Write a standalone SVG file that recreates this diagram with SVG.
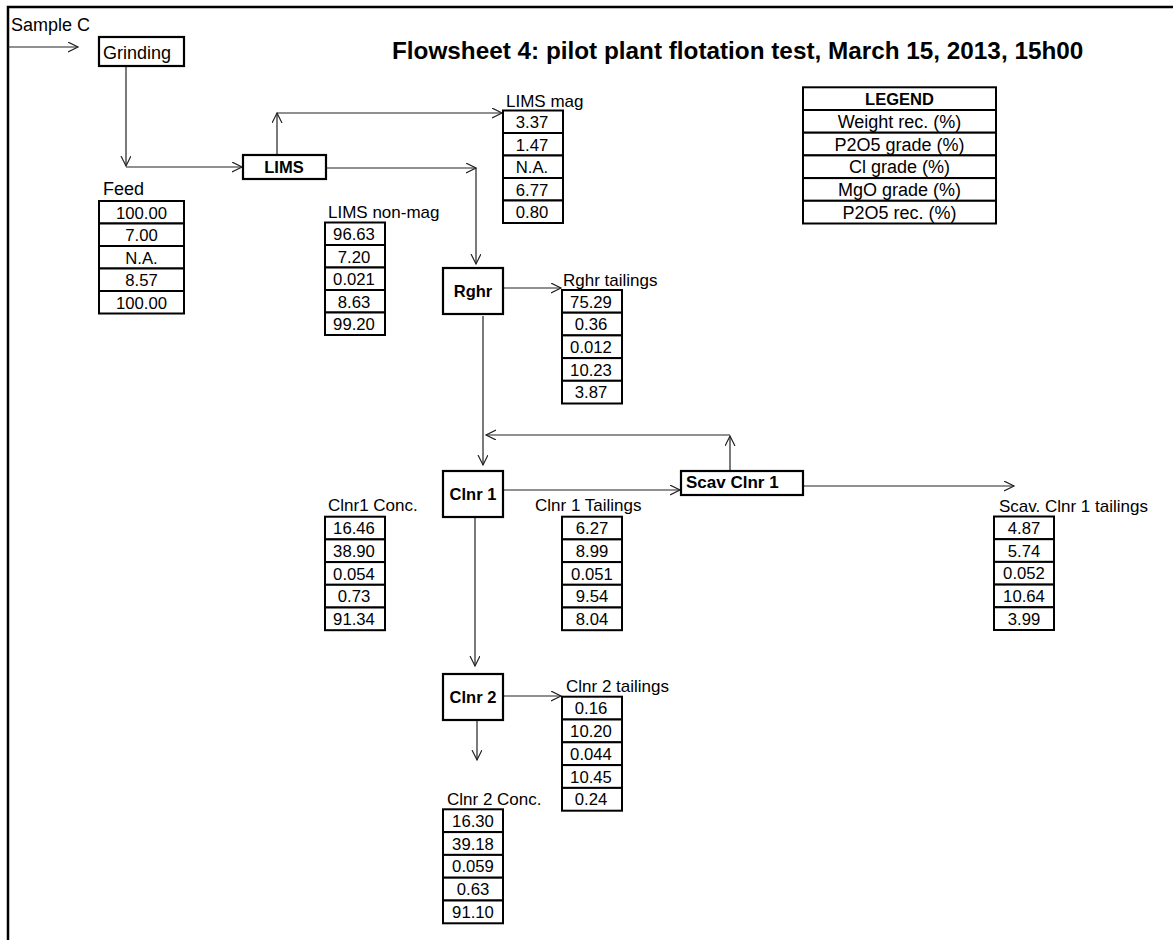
<svg xmlns="http://www.w3.org/2000/svg" width="1173" height="940" viewBox="0 0 1173 940">
  <defs>
    <marker id="arr" markerUnits="userSpaceOnUse" markerWidth="12" markerHeight="12" refX="10" refY="5" orient="auto">
      <path d="M0,0 L10,5 L0,10" fill="none" stroke="#222" stroke-width="1.2"/>
    </marker>
    <style>
      text { font-family: "Liberation Sans", Arial, sans-serif; fill: #000; }
      .title { font-size: 24.3px; font-weight: bold; }
      .lbl { font-size: 17px; }
      .big { font-size: 18px; }
      .num { font-size: 16.7px; text-anchor: middle; }
      .leg { font-size: 18px; text-anchor: middle; }
      .legh { font-size: 16.5px; font-weight: bold; text-anchor: middle; }
      .node { font-size: 16.5px; font-weight: bold; text-anchor: middle; }
      .node-l { font-size: 17px; font-weight: bold; text-anchor: start; }
      .box { fill: #fff; stroke: #000; stroke-width: 2.2; }
      .cell { fill: #fff; stroke: #000; stroke-width: 2; }
      .conn { fill: none; stroke: #222; stroke-width: 1.2; marker-end: url(#arr); }
      .frame { fill: none; stroke: #000; stroke-width: 2.5; }
    </style>
  </defs>

  <rect width="1173" height="940" fill="#fff"/>

  <!-- sheet frame -->
  <path class="frame" d="M8,940 V7 H1173"/>

  <text class="title" x="392" y="59">Flowsheet 4: pilot plant flotation test, March 15, 2013, 15h00</text>
  <text class="big" x="11" y="31">Sample C</text>

  <!-- stream connectors -->
  <g id="connectors">
    <path class="conn" d="M8,47 H78"/>
    <path class="conn" d="M126,66 V166"/>
    <path class="conn" d="M126,167 H242"/>
    <path class="conn" d="M277,155 V113"/>
    <path class="conn" d="M277,113 H502"/>
    <path class="conn" d="M326,168 H476"/>
    <path class="conn" d="M476,168 V264"/>
    <path class="conn" d="M503,288 H561"/>
    <path class="conn" d="M483,316 V465"/>
    <path class="conn" d="M730,471 V436"/>
    <path class="conn" d="M730,435 H486"/>
    <path class="conn" d="M503,490 H680"/>
    <path class="conn" d="M803,486 H1014"/>
    <path class="conn" d="M475,517 V666"/>
    <path class="conn" d="M503,696 H561"/>
    <path class="conn" d="M477,720 V760"/>
  </g>

  <!-- process units -->
  <g id="grinding">
    <rect class="box" x="99" y="37" width="85" height="29"/>
    <text class="big" x="103" y="59">Grinding</text>
  </g>
  <g id="lims">
    <rect class="box" x="243" y="155" width="83" height="24"/>
    <text class="node" x="284" y="173">LIMS</text>
  </g>
  <g id="rghr">
    <rect class="box" x="443" y="268" width="60" height="46"/>
    <text class="node" x="473" y="297">Rghr</text>
  </g>
  <g id="clnr1">
    <rect class="box" x="443" y="471" width="60" height="46"/>
    <text class="node" x="473" y="500">Clnr 1</text>
  </g>
  <g id="scav-clnr1">
    <rect class="box" x="681" y="471" width="122" height="24"/>
    <text class="node-l" x="686" y="488">Scav Clnr 1</text>
  </g>
  <g id="clnr2">
    <rect class="box" x="443" y="674" width="60" height="46"/>
    <text class="node" x="473" y="703">Clnr 2</text>
  </g>

  <!-- stream data tables -->
  <g id="feed">
    <text class="big" x="103" y="195">Feed</text>
    <rect class="cell" x="99" y="201" width="85" height="22.5"/>
    <rect class="cell" x="99" y="223.5" width="85" height="22.5"/>
    <rect class="cell" x="99" y="246" width="85" height="22.5"/>
    <rect class="cell" x="99" y="268.5" width="85" height="22.5"/>
    <rect class="cell" x="99" y="291" width="85" height="22.5"/>
    <text class="num" x="141.5" y="218.5">100.00</text>
    <text class="num" x="141.5" y="241">7.00</text>
    <text class="num" x="141.5" y="263.5">N.A.</text>
    <text class="num" x="141.5" y="286">8.57</text>
    <text class="num" x="141.5" y="308.5">100.00</text>
  </g>

  <g id="lims-nonmag">
    <text class="lbl" x="328" y="218">LIMS non-mag</text>
    <rect class="cell" x="325" y="222.5" width="60" height="22.5"/>
    <rect class="cell" x="325" y="245" width="60" height="22.5"/>
    <rect class="cell" x="325" y="267.5" width="60" height="22.5"/>
    <rect class="cell" x="325" y="290" width="60" height="22.5"/>
    <rect class="cell" x="325" y="312.5" width="60" height="22.5"/>
    <text class="num" x="354" y="240">96.63</text>
    <text class="num" x="354" y="262.5">7.20</text>
    <text class="num" x="354" y="285">0.021</text>
    <text class="num" x="354" y="307.5">8.63</text>
    <text class="num" x="354" y="330">99.20</text>
  </g>

  <g id="lims-mag">
    <text class="lbl" x="506" y="107">LIMS mag</text>
    <rect class="cell" x="503" y="110.5" width="60" height="22.5"/>
    <rect class="cell" x="503" y="133" width="60" height="22.5"/>
    <rect class="cell" x="503" y="155.5" width="60" height="22.5"/>
    <rect class="cell" x="503" y="178" width="60" height="22.5"/>
    <rect class="cell" x="503" y="200.5" width="60" height="22.5"/>
    <text class="num" x="532" y="128">3.37</text>
    <text class="num" x="532" y="150.5">1.47</text>
    <text class="num" x="532" y="173">N.A.</text>
    <text class="num" x="532" y="195.5">6.77</text>
    <text class="num" x="532" y="218">0.80</text>
  </g>

  <g id="rghr-tailings">
    <text class="lbl" x="563" y="286">Rghr tailings</text>
    <rect class="cell" x="562" y="290" width="60" height="22.7"/>
    <rect class="cell" x="562" y="312.7" width="60" height="22.7"/>
    <rect class="cell" x="562" y="335.4" width="60" height="22.7"/>
    <rect class="cell" x="562" y="358.1" width="60" height="22.7"/>
    <rect class="cell" x="562" y="380.8" width="60" height="22.7"/>
    <text class="num" x="591" y="307.5">75.29</text>
    <text class="num" x="591" y="330.2">0.36</text>
    <text class="num" x="591" y="352.9">0.012</text>
    <text class="num" x="591" y="375.6">10.23</text>
    <text class="num" x="591" y="398.3">3.87</text>
  </g>

  <g id="clnr1-conc">
    <text class="lbl" x="328" y="511">Clnr1 Conc.</text>
    <rect class="cell" x="325" y="516.7" width="60" height="22.7"/>
    <rect class="cell" x="325" y="539.4" width="60" height="22.7"/>
    <rect class="cell" x="325" y="562.1" width="60" height="22.7"/>
    <rect class="cell" x="325" y="584.8" width="60" height="22.7"/>
    <rect class="cell" x="325" y="607.5" width="60" height="22.7"/>
    <text class="num" x="354" y="534.2">16.46</text>
    <text class="num" x="354" y="556.9">38.90</text>
    <text class="num" x="354" y="579.6">0.054</text>
    <text class="num" x="354" y="602.3">0.73</text>
    <text class="num" x="354" y="625">91.34</text>
  </g>

  <g id="clnr1-tailings">
    <text class="lbl" x="535" y="511">Clnr 1 Tailings</text>
    <rect class="cell" x="562" y="516.7" width="60" height="22.7"/>
    <rect class="cell" x="562" y="539.4" width="60" height="22.7"/>
    <rect class="cell" x="562" y="562.1" width="60" height="22.7"/>
    <rect class="cell" x="562" y="584.8" width="60" height="22.7"/>
    <rect class="cell" x="562" y="607.5" width="60" height="22.7"/>
    <text class="num" x="592" y="534.2">6.27</text>
    <text class="num" x="592" y="556.9">8.99</text>
    <text class="num" x="592" y="579.6">0.051</text>
    <text class="num" x="592" y="602.3">9.54</text>
    <text class="num" x="592" y="625">8.04</text>
  </g>

  <g id="scav-tailings">
    <text class="lbl" x="999" y="512">Scav. Clnr 1 tailings</text>
    <rect class="cell" x="994" y="516.5" width="60" height="22.7"/>
    <rect class="cell" x="994" y="539.2" width="60" height="22.7"/>
    <rect class="cell" x="994" y="561.9" width="60" height="22.7"/>
    <rect class="cell" x="994" y="584.6" width="60" height="22.7"/>
    <rect class="cell" x="994" y="607.3" width="60" height="22.7"/>
    <text class="num" x="1024" y="534">4.87</text>
    <text class="num" x="1024" y="556.7">5.74</text>
    <text class="num" x="1024" y="579.4">0.052</text>
    <text class="num" x="1024" y="602.1">10.64</text>
    <text class="num" x="1024" y="624.8">3.99</text>
  </g>

  <g id="clnr2-tailings">
    <text class="lbl" x="566" y="692">Clnr 2 tailings</text>
    <rect class="cell" x="562" y="696.7" width="60" height="22.8"/>
    <rect class="cell" x="562" y="719.5" width="60" height="22.8"/>
    <rect class="cell" x="562" y="742.3" width="60" height="22.8"/>
    <rect class="cell" x="562" y="765.1" width="60" height="22.8"/>
    <rect class="cell" x="562" y="787.9" width="60" height="22.8"/>
    <text class="num" x="591" y="714.2">0.16</text>
    <text class="num" x="591" y="737">10.20</text>
    <text class="num" x="591" y="759.8">0.044</text>
    <text class="num" x="591" y="782.6">10.45</text>
    <text class="num" x="591" y="805.4">0.24</text>
  </g>

  <g id="clnr2-conc">
    <text class="lbl" x="447" y="805">Clnr 2 Conc.</text>
    <rect class="cell" x="443" y="809.3" width="60" height="22.8"/>
    <rect class="cell" x="443" y="832.1" width="60" height="22.8"/>
    <rect class="cell" x="443" y="854.9" width="60" height="22.8"/>
    <rect class="cell" x="443" y="877.7" width="60" height="22.8"/>
    <rect class="cell" x="443" y="900.5" width="60" height="22.8"/>
    <text class="num" x="473" y="826.8">16.30</text>
    <text class="num" x="473" y="849.6">39.18</text>
    <text class="num" x="473" y="872.4">0.059</text>
    <text class="num" x="473" y="895.2">0.63</text>
    <text class="num" x="473" y="918">91.10</text>
  </g>

  <g id="legend">
    <rect class="cell" x="803" y="87.3" width="193" height="22.7"/>
    <rect class="cell" x="803" y="110" width="193" height="22.7"/>
    <rect class="cell" x="803" y="132.7" width="193" height="22.7"/>
    <rect class="cell" x="803" y="155.4" width="193" height="22.7"/>
    <rect class="cell" x="803" y="178.1" width="193" height="22.7"/>
    <rect class="cell" x="803" y="200.8" width="193" height="22.7"/>
    <text class="legh" x="899.5" y="104.5">LEGEND</text>
    <text class="leg" x="899.5" y="128">Weight rec. (%)</text>
    <text class="leg" x="899.5" y="150.7">P2O5 grade (%)</text>
    <text class="leg" x="899.5" y="173.4">Cl grade (%)</text>
    <text class="leg" x="899.5" y="196.1">MgO grade (%)</text>
    <text class="leg" x="899.5" y="218.8">P2O5 rec. (%)</text>
  </g>
</svg>
